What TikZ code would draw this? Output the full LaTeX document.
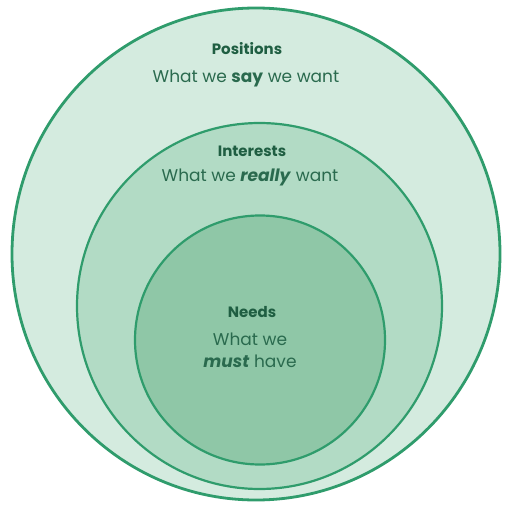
\documentclass[tikz,border=0pt]{standalone}
\usepackage{fontspec}
\setmainfont{Poppins}
\definecolor{outerfill}{HTML}{D4EBDF}
\definecolor{midfill}{HTML}{B2DBC5}
\definecolor{innerfill}{HTML}{8FC7A7}
\definecolor{ringline}{HTML}{2F9C6C}
\definecolor{txt}{HTML}{1F5E42}
\definecolor{subtxt}{HTML}{2A6A4E}
\begin{document}
\begin{tikzpicture}[x=1pt,y=-1pt,
  ring/.style={draw=ringline,line width=2.2pt},
  title/.style={text=txt,font=\fontsize{15}{18}\selectfont\bfseries,anchor=center},
  sub/.style={text=subtxt,font=\fontsize{17}{22}\selectfont,anchor=center,align=center}]
\useasboundingbox (0,0) rectangle (504,505);
\fill[white] (0,0) rectangle (504,505);
\draw[ring,fill=outerfill,line width=2.8pt] (256,254) ellipse (244 and 246);
\draw[ring,fill=midfill] (259.5,306) ellipse (182.5 and 183);
\draw[ring,fill=innerfill] (260,340) ellipse (125 and 124.5);
\node[title] (pos) at (247,49) {Positions};
\node[sub] (posd) at (246,78) {What we \textbf{say} we want};
\node[title] (int) at (252,151) {Interests};
\node[sub] (intd) at (250,177) {What we \textbf{\itshape really} want};
\node[title] (need) at (252,312) {Needs};
\node[sub] (needd) at (250,350) {What we\\\textbf{\itshape must} have};
\end{tikzpicture}
\end{document}
